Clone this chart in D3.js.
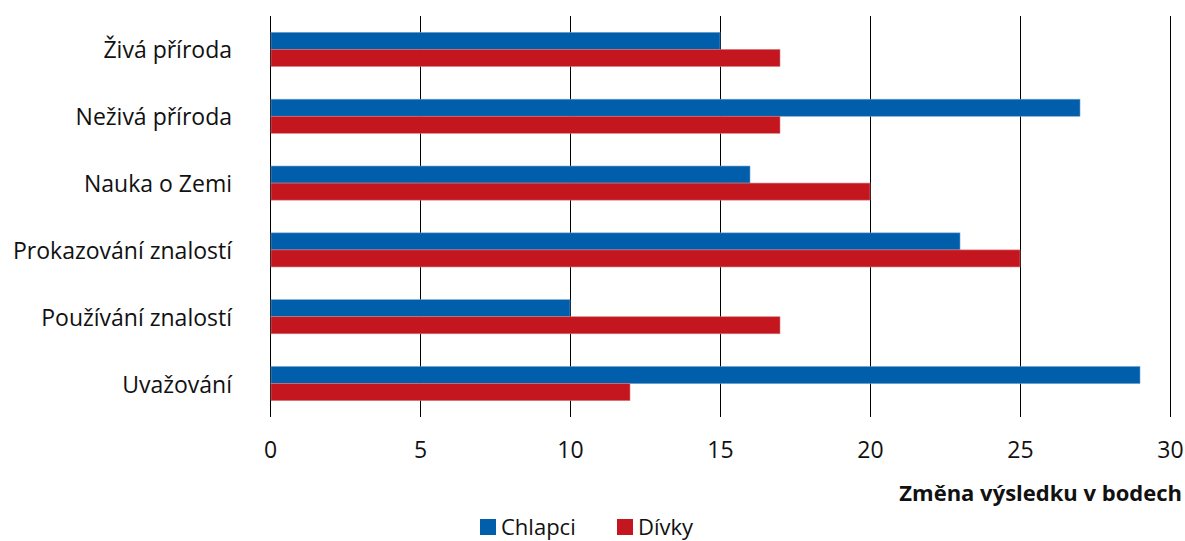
<!DOCTYPE html>
<html>
<head>
<meta charset="utf-8">
<script src="https://cdn.jsdelivr.net/npm/d3@7"></script>
<style>
  body { margin: 0; background: #fff; }
  text { font-family: "Open Sans", sans-serif; fill: #111; }
</style>
</head>
<body>
<div id="chart"></div>
<script>
// categories and series values
const categories = ["Živá příroda", "Neživá příroda", "Nauka o Zemi", "Prokazování znalostí", "Používání znalostí", "Uvažování"];
const chlapci = [15, 27, 16, 23, 10, 29];
const divky = [17, 17, 20, 25, 17, 12];
const seriesNames = ["Chlapci", "Dívky"];
const xTicks = [0, 5, 10, 15, 20, 25, 30];

const width = 1185, height = 541;
const margin = { top: 16, right: 15, bottom: 124, left: 270 };
const colors = ["#005eaa", "#c3161f"];
const fontSize = "23px";

const svg = d3.select("#chart").append("svg")
    .attr("width", width)
    .attr("height", height);

const x = d3.scaleLinear()
    .domain([0, 30])
    .range([margin.left, width - margin.right]);

const y = d3.scaleBand()
    .domain(categories)
    .range([margin.top, height - margin.bottom])
    .paddingInner(0.49)
    .paddingOuter(0.245);

const sub = d3.scaleBand()
    .domain(seriesNames)
    .range([0, y.bandwidth()]);

// gridlines
svg.append("g")
    .selectAll("line")
    .data(xTicks)
    .join("line")
    .attr("x1", d => Math.round(x(d)) + 0.5)
    .attr("x2", d => Math.round(x(d)) + 0.5)
    .attr("y1", margin.top)
    .attr("y2", height - margin.bottom)
    .attr("stroke", "#000")
    .attr("stroke-width", 1);

// bars
const rows = categories.map((c, i) => ({ cat: c, vals: [chlapci[i], divky[i]] }));
const groups = svg.append("g")
    .selectAll("g")
    .data(rows)
    .join("g")
    .attr("transform", d => `translate(0, ${y(d.cat)})`);

groups.selectAll("rect")
    .data(d => d.vals.map((v, k) => ({ key: seriesNames[k], v, k })))
    .join("rect")
    .attr("x", x(0) + 1)
    .attr("y", d => sub(d.key))
    .attr("width", d => x(d.v) - x(0) - 1)
    .attr("height", sub.bandwidth())
    .attr("fill", d => colors[d.k])
    .attr("stroke", d => d.k === 0 ? "#6d9fd0" : "#d9787c")
    .attr("stroke-width", 0.6);

// category labels
svg.append("g")
    .selectAll("text")
    .data(categories)
    .join("text")
    .attr("x", 232)
    .attr("y", d => y(d) + y.bandwidth() / 2)
    .attr("text-anchor", "end")
    .attr("dominant-baseline", "central")
    .style("font-size", fontSize)
    .text(d => d);

// x axis labels
const xAxis = svg.append("g")
    .attr("transform", `translate(0, ${height - margin.bottom})`)
    .call(d3.axisBottom(x).tickValues(xTicks).tickSize(0).tickPadding(25));
xAxis.select(".domain").remove();
xAxis.selectAll("text")
    .style("font-size", fontSize)
    .style("font-family", "'Open Sans', sans-serif")
    .attr("fill", "#111");

// axis title
svg.append("text")
    .attr("x", 1182)
    .attr("y", 501)
    .attr("text-anchor", "end")
    .style("font-size", "22px")
    .style("font-weight", "bold")
    .text("Změna  výsledku v bodech");

// legend
const legend = svg.append("g")
    .attr("transform", "translate(480, 518)");
const legX = [0, 137];
seriesNames.forEach((name, k) => {
    legend.append("rect")
        .attr("x", legX[k])
        .attr("y", 1)
        .attr("width", 16)
        .attr("height", 16)
        .attr("fill", colors[k]);
    legend.append("text")
        .attr("x", legX[k] + 21)
        .attr("y", 8)
        .attr("dominant-baseline", "central")
        .style("font-size", "22px")
        .text(name);
});
</script>
</body>
</html>
